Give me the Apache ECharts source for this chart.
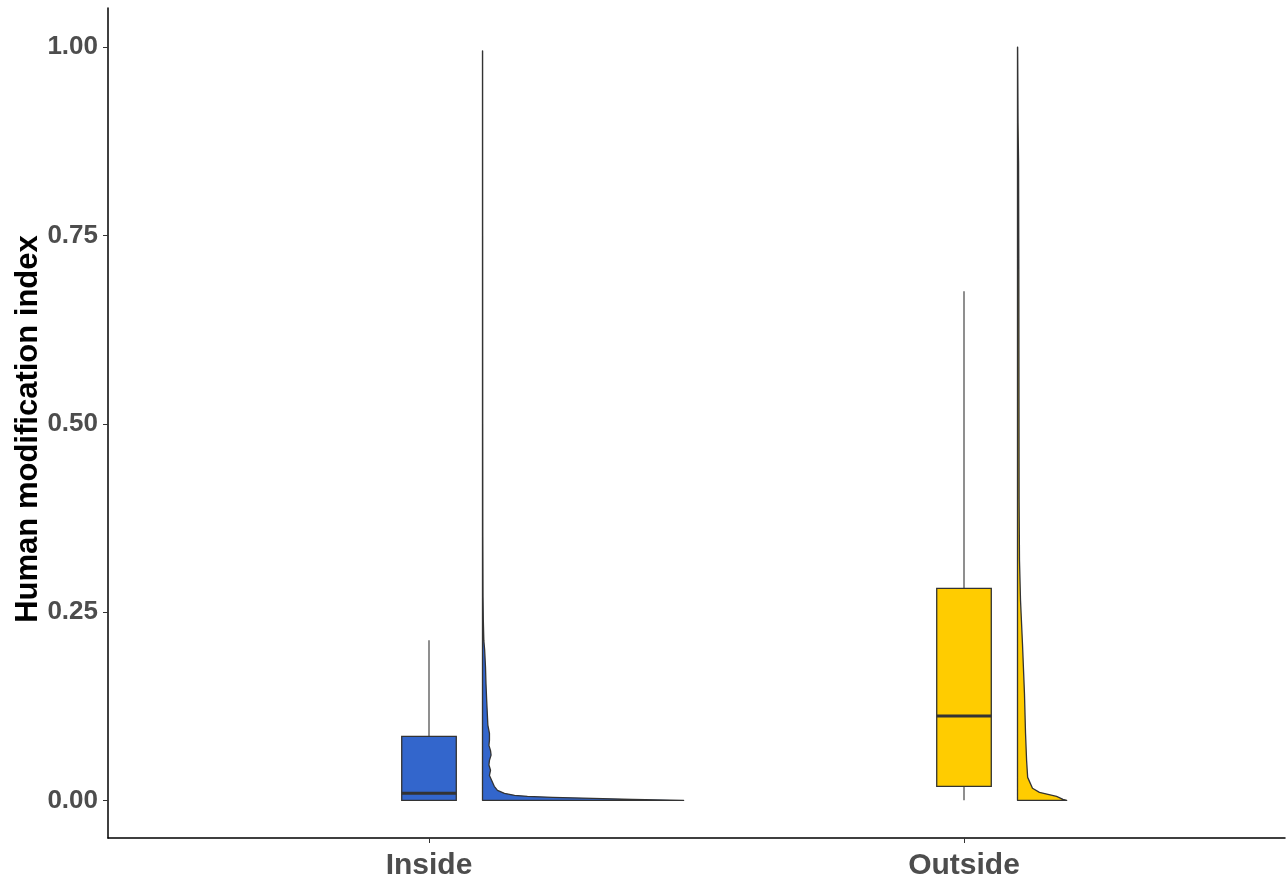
<!DOCTYPE html>
<html><head><meta charset="utf-8">
<script src="https://cdn.jsdelivr.net/npm/echarts@6/dist/echarts.min.js"></script>
<style>html,body{margin:0;padding:0;background:#fff}#c{width:1287px;height:882px}</style>
</head><body><div id="c"></div>
<script>
const categories = ['Inside', 'Outside'];
const fillColors = ['#3366CC', '#FFCC00'];
// [lower whisker, q1, median, q3, upper whisker]
const insideBox = [0, 0, 0.0093, 0.085, 0.2125];
const outsideBox = [0, 0.0186, 0.112, 0.2815, 0.676];
// half-violin profiles: y value and half-width (in category units)
const insideViolinY = [0, 0.0013, 0.0027, 0.004, 0.0053, 0.0066, 0.0093, 0.0133, 0.0186, 0.0266, 0.033, 0.04, 0.047, 0.053, 0.06, 0.066, 0.073, 0.08, 0.089, 0.1, 0.115, 0.133, 0.155, 0.177, 0.2, 0.212, 0.24, 0.27, 0.35, 0.5, 0.75, 0.995];
const insideViolinW = [0.376, 0.28, 0.206, 0.131, 0.084, 0.06, 0.041, 0.028, 0.022, 0.017, 0.013, 0.015, 0.012, 0.013, 0.016, 0.015, 0.012, 0.013, 0.013, 0.010, 0.009, 0.0078, 0.0065, 0.0056, 0.004, 0.0025, 0.0015, 0.001, 0.0006, 0.0004, 0.0003, 0.0002];
const outsideViolinY = [0, 0.0013, 0.0053, 0.0106, 0.016, 0.0305, 0.053, 0.089, 0.142, 0.208, 0.266, 0.319, 0.4, 0.53, 0.7, 0.846, 0.9, 1.0];
const outsideViolinW = [0.092, 0.085, 0.073, 0.041, 0.028, 0.019, 0.017, 0.015, 0.013, 0.0093, 0.0056, 0.0037, 0.003, 0.0028, 0.0025, 0.002, 0.001, 0.0003];
const yTicks = [0, 0.25, 0.5, 0.75, 1];

const boxes = [insideBox, outsideBox];
const violins = [[insideViolinY, insideViolinW], [outsideViolinY, outsideViolinW]];
const BOX_HALF = 0.051;
const VIOLIN_OFFSET = 0.1;
const stroke = '#333333';

function renderBox(params, api) {
  const i = params.dataIndex;
  const cx = api.value(0);
  const b = boxes[i];
  const tl = api.coord([cx - BOX_HALF, b[3]]);
  const br = api.coord([cx + BOX_HALF, b[1]]);
  const wTop = api.coord([cx, b[4]]);
  const wQ3 = api.coord([cx, b[3]]);
  const wQ1 = api.coord([cx, b[1]]);
  const wBot = api.coord([cx, b[0]]);
  const mL = api.coord([cx - BOX_HALF, b[2]]);
  const mR = api.coord([cx + BOX_HALF, b[2]]);
  return {
    type: 'group',
    children: [
      { type: 'line', shape: { x1: wTop[0], y1: wTop[1], x2: wQ3[0], y2: wQ3[1] }, style: { stroke: stroke, lineWidth: 1.1 } },
      { type: 'line', shape: { x1: wQ1[0], y1: wQ1[1], x2: wBot[0], y2: wBot[1] }, style: { stroke: stroke, lineWidth: 1.1 } },
      { type: 'rect', shape: { x: tl[0], y: tl[1], width: br[0] - tl[0], height: br[1] - tl[1] }, style: { fill: fillColors[i], stroke: stroke, lineWidth: 1.3 } },
      { type: 'line', shape: { x1: mL[0], y1: mL[1], x2: mR[0], y2: mR[1] }, style: { stroke: stroke, lineWidth: 3 } }
    ]
  };
}

function renderViolin(params, api) {
  const i = params.dataIndex;
  const cx = api.value(0) + VIOLIN_OFFSET;
  const ys = violins[i][0], ws = violins[i][1];
  const pts = [];
  pts.push(api.coord([cx, ys[0]]));
  for (let k = 0; k < ys.length; k++) pts.push(api.coord([cx + ws[k], ys[k]]));
  pts.push(api.coord([cx, ys[ys.length - 1]]));
  return {
    type: 'polygon',
    shape: { points: pts },
    style: { fill: fillColors[i], stroke: stroke, lineWidth: 1.3, lineJoin: 'round' }
  };
}

const chart = echarts.init(document.getElementById('c'), null, { renderer: 'canvas' });
chart.setOption({
  backgroundColor: '#ffffff',
  animation: false,
  grid: { left: 108, right: 2, top: 8, bottom: 44, containLabel: false, outerBoundsMode: 'none' },
  xAxis: {
    type: 'value', min: 0.4, max: 2.6,
    splitLine: { show: false },
    axisLine: { show: true, onZero: false, lineStyle: { color: '#000', width: 1.5 } },
    axisTick: { show: true, length: 5, lineStyle: { color: '#333', width: 1 }, customValues: [1, 2] },
    axisLabel: {
      customValues: [1, 2],
      formatter: function (v) { return categories[Math.round(v) - 1] || ''; },
      color: '#4d4d4d', fontWeight: 'bold', fontSize: 30, fontFamily: 'Liberation Sans, Arial, sans-serif', margin: 13
    }
  },
  yAxis: {
    type: 'value', min: -0.05, max: 1.052,
    name: 'Human modification index', nameLocation: 'middle', nameGap: 64, nameMoveOverlap: false,
    nameTextStyle: { color: '#000', fontWeight: 'bold', fontSize: 31, fontFamily: 'Liberation Sans, Arial, sans-serif', padding: [0, 12, 0, 0] },
    splitLine: { show: false },
    axisLine: { show: true, onZero: false, lineStyle: { color: '#000', width: 1.5 } },
    axisTick: { show: true, length: 5, lineStyle: { color: '#333', width: 1 }, customValues: yTicks },
    axisLabel: {
      customValues: yTicks,
      formatter: function (v) { return v.toFixed(2); },
      color: '#4d4d4d', fontWeight: 'bold', fontSize: 26, fontFamily: 'Liberation Sans, Arial, sans-serif', margin: 10
    }
  },
  series: [
    { type: 'custom', name: 'box', renderItem: renderBox, data: [[1], [2]], encode: { x: 0 }, clip: true },
    { type: 'custom', name: 'violin', renderItem: renderViolin, data: [[1], [2]], encode: { x: 0 }, clip: true }
  ]
});
</script>
</body></html>
